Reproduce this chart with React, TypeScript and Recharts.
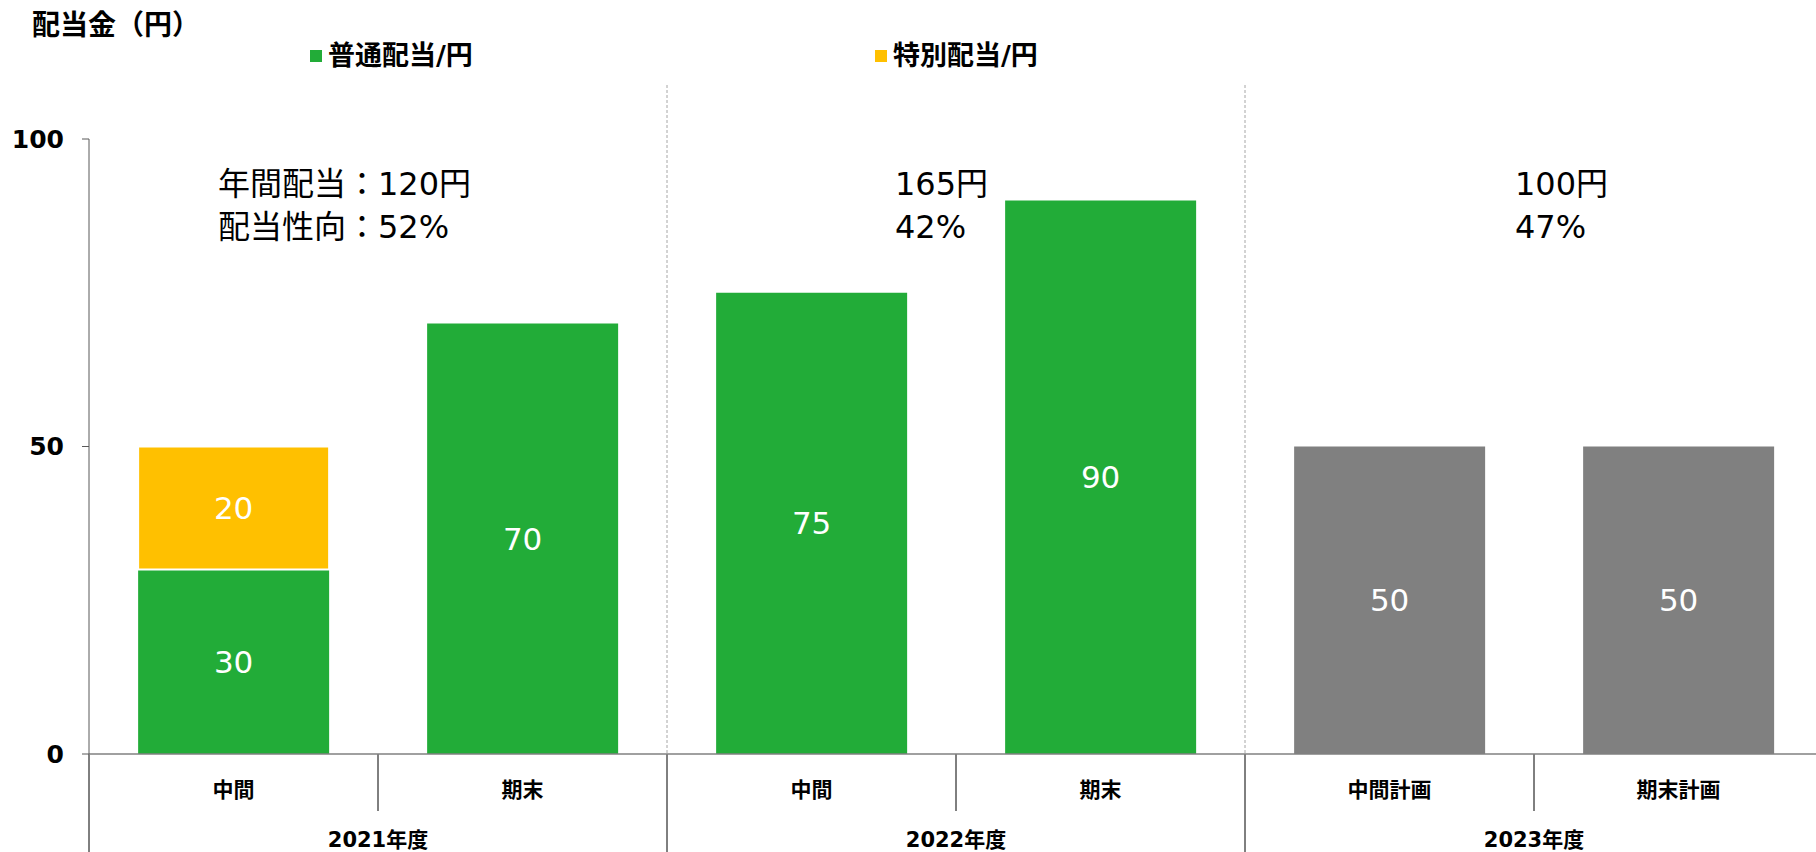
import React from 'react';
import { Bar, BarChart, LabelList, Legend, ReferenceLine, XAxis, YAxis } from 'recharts';

const years = ['2021年度', '2021年度', '2022年度', '2022年度', '2023年度', '2023年度'];
const periods = ['中間', '期末', '中間', '期末', '中間計画', '期末計画'];
const ordinary = [30, 70, 75, 90, null, null];
const special = [20, null, null, null, null, null];
const planned = [null, null, null, null, 50, 50];
const yTicks = [0, 50, 100];
const annualText = ['年間配当：120円', '165円', '100円'];
const payoutText = ['配当性向：52%', '42%', '47%'];

const data = periods.map((p, i) => ({
  key: `${years[i]}-${p}`,
  period: p,
  year: years[i],
  ordinary: ordinary[i],
  special: special[i],
  planned: planned[i],
}));

const FONT = "'DejaVu Sans', 'Noto Sans CJK JP', sans-serif";
const GREEN = '#22ac38';
const YELLOW = '#ffc000';
const GREY = '#808080';

// left offsets of the yearly note boxes
const notePos = [218, 895, 1515];

const groupLine = (p: any) => {
  const top = Math.min(p.y1, p.y2);
  const bottom = Math.max(p.y1, p.y2);
  return (
    <g>
      <line x1={p.x1} x2={p.x1} y1={top - 54} y2={bottom} stroke="#a6a6a6" strokeDasharray="3 2" />
      <line x1={p.x1} x2={p.x1} y1={bottom} y2={bottom + 98} stroke="#000" />
    </g>
  );
};

const startLine = (p: any) => {
  const bottom = Math.max(p.y1, p.y2);
  return <line x1={p.x1} x2={p.x1} y1={bottom} y2={bottom + 98} stroke="#000" />;
};

const subLine = (p: any) => {
  const bottom = Math.max(p.y1, p.y2);
  return <line x1={p.x1} x2={p.x1} y1={bottom} y2={bottom + 57} stroke="#000" />;
};

const renderLegend = (props: any) => (
  <div style={{ display: 'flex', fontFamily: FONT, fontWeight: 700, fontSize: 27, lineHeight: '36px', color: '#000' }}>
    {(props.payload || [])
      .filter((e: any) => e.type !== 'none' && e.value !== '計画')
      .map((e: any) => (
        <div key={e.value} style={{ width: 565, display: 'flex', alignItems: 'center' }}>
          <span style={{ width: 12, height: 12, background: e.color, marginRight: 6, display: 'inline-block' }} />
          <span>{e.value}</span>
        </div>
      ))}
  </div>
);

export default function App() {
  return (
    <div style={{ position: 'absolute', left: 0, top: 0, width: 1816, height: 852, background: '#fff', fontFamily: FONT, overflow: 'hidden' }}>
      <BarChart
        width={1816}
        height={852}
        data={data}
        margin={{ top: 139, right: -7, bottom: 0, left: 0 }}
        barCategoryGap="17%"
      >
        <XAxis
          dataKey="key"
          height={50}
          tickFormatter={(v: string) => v.split('-')[1]}
          tickLine={false}
          tickMargin={22}
          interval={0}
          axisLine={{ stroke: GREY, strokeWidth: 1.5 }}
          tick={{ fill: '#000', fontSize: 21, fontWeight: 700, fontFamily: FONT }}
        />
        <XAxis
          xAxisId="year"
          dataKey="year"
          allowDuplicatedCategory={false}
          height={48}
          tickLine={false}
          axisLine={false}
          tickSize={0}
          tickMargin={28}
          interval={0}
          tick={{ fill: '#000', fontSize: 21, fontWeight: 700, fontFamily: FONT }}
        />
        <YAxis
          width={89}
          domain={[0, 100]}
          ticks={yTicks}
          tickSize={7}
          tickMargin={18}
          axisLine={{ stroke: '#595959' }}
          tickLine={{ stroke: '#595959' }}
          tick={{ fill: '#000', fontSize: 25, fontWeight: 700, fontFamily: FONT }}
        />
        <Legend
          layout="horizontal"
          verticalAlign="middle"
          align="center"
          content={renderLegend}
          wrapperStyle={{ top: 38, left: 310, width: 1200 }}
        />
        <ReferenceLine x={data[0].key} position="start" shape={startLine} />
        <ReferenceLine x={data[1].key} position="end" shape={groupLine} />
        <ReferenceLine x={data[3].key} position="end" shape={groupLine} />
        <ReferenceLine x={data[0].key} position="end" shape={subLine} />
        <ReferenceLine x={data[2].key} position="end" shape={subLine} />
        <ReferenceLine x={data[4].key} position="end" shape={subLine} />
        <Bar dataKey="ordinary" name="普通配当/円" stackId="a" fill={GREEN} isAnimationActive={false}>
          <LabelList dataKey="ordinary" position="center" fill="#fff" fontSize={31} fontFamily={FONT} />
        </Bar>
        <Bar dataKey="special" name="特別配当/円" stackId="a" fill={YELLOW} stroke="#fff" strokeWidth={2} isAnimationActive={false}>
          <LabelList dataKey="special" position="center" fill="#fff" fontSize={31} fontFamily={FONT} />
        </Bar>
        <Bar dataKey="planned" name="計画" stackId="a" fill={GREY} legendType="none" isAnimationActive={false}>
          <LabelList dataKey="planned" position="center" fill="#fff" fontSize={31} fontFamily={FONT} />
        </Bar>
      </BarChart>
      <div style={{ position: 'absolute', left: 32, top: 8, fontSize: 28, fontWeight: 700, lineHeight: '36px', color: '#000' }}>
        配当金（円）
      </div>
      {annualText.map((t, i) => (
        <div
          key={t}
          style={{ position: 'absolute', left: notePos[i], top: 163, fontSize: 32, lineHeight: '43px', color: '#000', whiteSpace: 'nowrap' }}
        >
          <div>{t}</div>
          <div>{payoutText[i]}</div>
        </div>
      ))}
    </div>
  );
}
